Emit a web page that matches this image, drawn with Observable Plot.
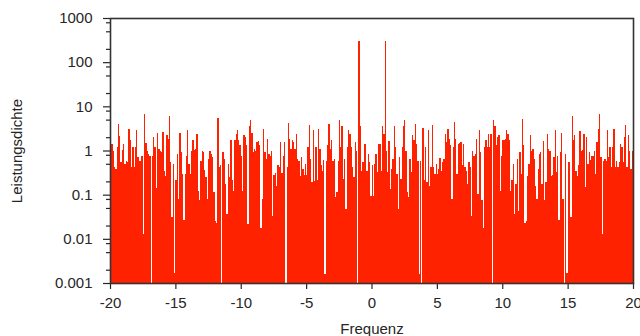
<!DOCTYPE html>
<html><head><meta charset="utf-8">
<script src="https://cdn.jsdelivr.net/npm/d3@7"></script>
<script src="https://cdn.jsdelivr.net/npm/@observablehq/plot@0.6"></script>
<style>html,body{margin:0;padding:0;background:#fff;}</style>
</head><body><div id="chart"></div>
<script>
// frequency bins: start and width
const fStart = -20;
const fStep = 0.1;

// power spectral density per bin
const psd1 = [
1.5, 1.4, 1.0, 0.42, 0.38, 1.19, 3.9, 2.1, 0.54, 1.04,
1.42, 0.50, 0.59, 0.54, 3.1, 1.69, 0.42, 1.23, 0.42, 1.23,
2.95, 0.70, 0.59, 0.57, 0.77, 0.013, 6.6, 1.47, 1.0, 0.84,
0.77, 0.001, 0.77, 2.0, 1.19, 0.14, 2.5, 1.09, 1.0, 0.92,
2.6, 0.35, 0.27, 2.2, 1.84, 6.2, 0.54, 0.031, 0.50, 0.0017,
0.21, 0.84, 0.080, 2.5, 0.92, 0.30, 0.027, 0.30, 0.77, 2.85,
0.50, 0.30, 1.0, 1.69, 1.04, 1.09, 2.4, 0.123, 0.076, 0.59,
1.0, 0.92, 0.36, 0.25, 0.080, 0.65, 1.0, 0.84, 0.70, 0.113,
0.026, 0.023, 5.5, 0.42, 0.46, 0.001, 0.92, 0.65, 0.175, 0.036,
0.50, 0.25, 1.69, 0.21, 0.123, 1.75, 2.4, 2.85, 1.75, 1.30];
const psd2 = [
0.77, 0.123, 2.2, 2.0, 1.30, 0.022, 3.5, 5.0, 2.5, 0.92,
1.09, 1.0, 1.55, 1.63, 1.30, 0.018, 0.080, 3.1, 0.92, 0.65,
1.84, 0.84, 0.77, 1.0, 0.033, 0.285, 0.31, 0.16, 0.46, 0.42,
1.55, 0.31, 0.77, 1.55, 0.001, 0.42, 4.2, 1.84, 1.09, 1.69,
1.55, 1.09, 2.4, 0.65, 0.57, 0.27, 0.70, 0.38, 0.285, 0.50,
0.285, 1.23, 3.7, 0.65, 0.19, 2.85, 0.20, 1.19, 0.21, 3.1,
1.09, 0.46, 0.35, 0.61, 0.0016, 0.59, 1.30, 4.0, 1.09, 1.69,
0.59, 0.65, 0.090, 0.113, 0.59, 4.8, 1.19, 3.5, 0.23, 0.65,
0.047, 1.23, 2.95, 2.4, 1.19, 0.42, 0.25, 1.55, 1.0, 0.001,
300, 3.5, 0.35, 0.54, 1.42, 1.42, 0.35, 0.84, 0.54, 0.095];
const psd3 = [
0.46, 0.095, 0.50, 0.84, 0.32, 1.42, 1.42, 0.35, 3.5, 2.4,
300, 1.0, 0.32, 1.63, 0.135, 0.38, 0.65, 3.5, 1.19, 0.30,
0.047, 0.70, 0.23, 1.19, 3.5, 5.0, 1.0, 0.113, 0.087, 0.65,
0.32, 2.2, 1.69, 4.0, 1.42, 0.57, 0.0016, 0.59, 0.001, 3.3,
0.21, 1.23, 0.19, 2.85, 0.16, 0.42, 3.7, 0.42, 0.30, 0.50,
0.30, 0.38, 0.68, 0.35, 0.54, 0.65, 2.4, 1.55, 3.1, 1.84,
1.30, 0.080, 1.19, 4.4, 1.84, 0.30, 1.42, 1.5, 1.55, 0.46,
1.42, 0.42, 0.35, 0.175, 0.54, 0.42, 0.033, 1.0, 0.77, 0.84,
1.84, 0.104, 2.95, 0.92, 0.076, 0.018, 1.19, 1.69, 1.19, 2.4,
1.19, 2.4, 0.001, 5.0, 3.5, 1.30, 2.0, 2.2, 0.123, 0.77];
const psd4 = [
1.75, 1.75, 1.84, 2.85, 2.4, 1.75, 0.123, 0.21, 0.50, 0.036,
0.175, 0.65, 0.043, 0.92, 0.30, 5.2, 1.30, 0.023, 0.026, 0.27,
0.50, 2.2, 1.0, 1.1, 0.65, 0.16, 0.080, 0.38, 0.84, 0.92,
0.175, 1.63, 0.076, 0.19, 2.4, 1.09, 1.0, 0.27, 0.285, 0.70,
2.85, 0.32, 0.77, 0.027, 0.92, 2.5, 0.080, 0.001, 0.84, 0.0017,
0.54, 0.54, 0.032, 6.2, 1.75, 2.2, 0.35, 0.27, 0.46, 2.75,
1.0, 1.04, 2.4, 0.147, 2.0, 0.50, 0.92, 0.6, 0.77, 0.77,
1.0, 0.30, 1.55, 3.1, 6.6, 0.70, 0.013, 0.59, 0.65, 0.59,
2.85, 0.70, 1.23, 0.42, 1.19, 3.1, 0.42, 0.59, 0.42, 0.54,
1.42, 1.19, 0.54, 2.0, 3.7, 0.42, 2.2, 1.0, 0.38, 1.0];

// axes
const xTicks = [-20, -15, -10, -5, 0, 5, 10, 15, 20];
const yTicks = [0.001, 0.01, 0.1, 1, 10, 100, 1000];
const yTickLabels = ["0.001", "0.01", "0.1", "1", "10", "100", "1000"];
const yMinorTicks = [0.002, 0.005, 0.008, 0.02, 0.05, 0.08, 0.2, 0.5, 0.8,
                     2, 5, 8, 20, 50, 80, 200, 500, 800];
const xLabel = "Frequenz";
const yLabel = "Leistungsdichte";

const values = [...psd1, ...psd2, ...psd3, ...psd4];
const yBase = yTicks[0];
const data = values.map((v, i) => ({f0: fStart + i * fStep, f1: fStart + (i + 1) * fStep, v}));

const chart = Plot.plot({
  width: 640,
  height: 336,
  marginLeft: 110,
  marginRight: 7,
  marginTop: 18,
  marginBottom: 53,
  style: {fontFamily: "'Liberation Sans', Arial, sans-serif", fontSize: "15px", color: "#262626", background: "#fff"},
  x: {domain: [xTicks[0], xTicks[xTicks.length - 1]]},
  y: {type: "log", domain: [yTicks[0], yTicks[yTicks.length - 1]]},
  marks: [
    Plot.rectY(data, {x1: "f0", x2: "f1", y1: () => yBase, y2: "v", fill: "#ff2200", shapeRendering: "crispEdges"}),
    Plot.axisY(yMinorTicks, {tickSize: 4, tickFormat: () => "", label: null, strokeWidth: 1.2}),
    Plot.axisY(yTicks, {tickSize: 7, tickPadding: 11, strokeWidth: 1.2,
      tickFormat: d => yTickLabels[yTicks.indexOf(d)],
      label: yLabel, labelAnchor: "center", labelOffset: 99, labelArrow: "none"}),
    Plot.axisX(xTicks, {tickSize: 6, tickPadding: 8, strokeWidth: 1.2,
      tickFormat: d => String(d),
      label: xLabel, labelAnchor: "center", labelOffset: 50, labelArrow: "none"}),
    Plot.frame({stroke: "#333", strokeWidth: 1.6})
  ]
});
document.getElementById("chart").appendChild(chart);
</script>
</body></html>
